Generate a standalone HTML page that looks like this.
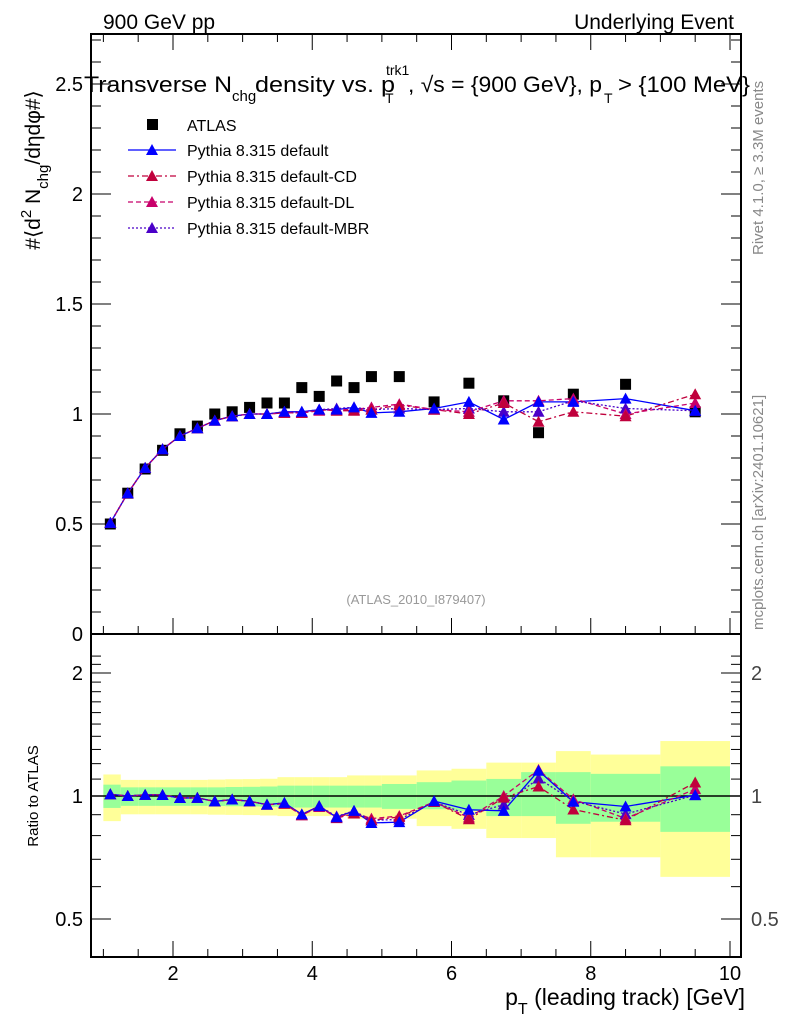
<!DOCTYPE html>
<html><head><meta charset="utf-8"><style>
body{margin:0;background:#fff}
svg{display:block;font-family:"Liberation Sans",sans-serif}
</style></head><body>
<svg id="chart" width="786" height="1024" viewBox="0 0 786 1024">
<g id="bands"></g>
<g id="axes"></g>
<g id="series"></g>
<text x="103" y="29" font-size="21">900 GeV pp</text>
<text x="734" y="29" font-size="21" text-anchor="end">Underlying Event</text>
<g font-size="22">
<text x="84" y="92" textLength="148" lengthAdjust="spacingAndGlyphs">Transverse N</text>
<text x="232" y="101" font-size="15">chg</text>
<text x="255" y="92" textLength="140" lengthAdjust="spacingAndGlyphs">density vs. p</text>
<text x="386" y="75" font-size="14">trk1</text>
<text x="385" y="103" font-size="14">T</text>
<text x="408" y="92" textLength="194" lengthAdjust="spacingAndGlyphs">, √s = {900 GeV}, p</text>
<text x="604" y="103" font-size="14">T</text>
<text x="618" y="92" textLength="132" lengthAdjust="spacingAndGlyphs">&gt; {100 MeV}</text>
</g>
<text transform="translate(40,170) rotate(-90)" font-size="21" text-anchor="middle">#⟨d<tspan font-size="15" dy="-9">2</tspan><tspan dy="9"> N</tspan><tspan font-size="15" dy="8">chg</tspan><tspan dy="-8">/dηdφ#⟩</tspan></text>
<text transform="translate(38,796) rotate(-90)" font-size="15" text-anchor="middle">Ratio to ATLAS</text>
<text x="745" y="1005" font-size="23" text-anchor="end">p<tspan font-size="16" dy="9">T</tspan><tspan dy="-9"> (leading track) [GeV]</tspan></text>
<text transform="translate(763,255) rotate(-90)" font-size="15" fill="#888">Rivet 4.1.0, ≥ 3.3M events</text>
<text transform="translate(763,630) rotate(-90)" font-size="15" fill="#888">mcplots.cern.ch [arXiv:2401.10621]</text>
<text x="416" y="604" font-size="13" fill="#999" text-anchor="middle">(ATLAS_2010_I879407)</text>
<g id="legend"></g>
</svg>
<script>
const xC=[1.1,1.35,1.6,1.85,2.1,2.35,2.6,2.85,3.1,3.35,3.6,3.85,4.1,4.35,4.6,4.85,5.25,5.75,6.25,6.75,7.25,7.75,8.5,9.5];
const binLo=[1,1.25,1.5,1.75,2,2.25,2.5,2.75,3,3.25,3.5,3.75,4,4.25,4.5,4.75,5,5.5,6,6.5,7,7.5,8,9];
const binHi=[1.25,1.5,1.75,2,2.25,2.5,2.75,3,3.25,3.5,3.75,4,4.25,4.5,4.75,5,5.5,6,6.5,7,7.5,8,9,10];
const atlas=[0.50,0.64,0.75,0.835,0.91,0.945,1.0,1.01,1.03,1.05,1.05,1.12,1.08,1.15,1.12,1.17,1.17,1.055,1.14,1.06,0.915,1.09,1.135,1.01];
const pyDefault=[0.505,0.64,0.755,0.84,0.90,0.935,0.97,0.99,1.0,1.0,1.01,1.01,1.02,1.02,1.03,1.005,1.01,1.025,1.055,0.975,1.055,1.055,1.07,1.015];
const pyCD=[0.505,0.64,0.755,0.84,0.90,0.935,0.97,0.99,1.0,1.0,1.005,1.005,1.02,1.015,1.015,1.02,1.04,1.02,1.0,1.05,0.965,1.01,0.99,1.09];
const pyDL=[0.505,0.64,0.755,0.84,0.90,0.935,0.97,0.99,1.0,1.0,1.005,1.005,1.015,1.02,1.02,1.03,1.045,1.02,1.01,1.06,1.06,1.07,1.0,1.05];
const pyMBR=[0.505,0.64,0.755,0.84,0.90,0.935,0.97,0.99,1.0,1.0,1.01,1.01,1.02,1.025,1.03,1.02,1.025,1.02,1.025,1.01,1.01,1.06,1.025,1.015];
const yelHi=[1.129,1.095,1.095,1.095,1.095,1.095,1.097,1.099,1.1,1.102,1.112,1.112,1.112,1.112,1.123,1.123,1.123,1.155,1.166,1.207,1.207,1.288,1.263,1.363];
const yelLo=[0.868,0.902,0.902,0.902,0.902,0.902,0.9,0.899,0.898,0.896,0.893,0.893,0.893,0.893,0.88,0.88,0.88,0.844,0.831,0.789,0.789,0.708,0.708,0.634];
const grnHi=[1.066,1.05,1.05,1.05,1.05,1.05,1.05,1.052,1.053,1.055,1.06,1.06,1.06,1.06,1.06,1.06,1.07,1.081,1.091,1.101,1.144,1.144,1.133,1.182];
const grnLo=[0.935,0.946,0.946,0.946,0.946,0.946,0.945,0.944,0.943,0.941,0.937,0.937,0.937,0.937,0.937,0.937,0.93,0.928,0.919,0.893,0.893,0.855,0.865,0.817];
const mainTicks=[0,0.5,1,1.5,2,2.5];
const ratioTicks=[0.5,1,2];
const xTicks=[2,4,6,8,10];

const NS="http://www.w3.org/2000/svg";
const L=91,R=741,T=34,MB=634,RB=957;
const X=v=>173+(v-2)*(730-173)/8;
const Y=v=>634-v*220;
const YR=r=>796-123*Math.log2(r);
function mk(tag,attrs,parent){const e=document.createElementNS(NS,tag);for(const k in attrs)e.setAttribute(k,attrs[k]);parent.appendChild(e);return e;}
const bands=document.getElementById('bands'),axes=document.getElementById('axes'),ser=document.getElementById('series'),leg=document.getElementById('legend');

for(let i=0;i<xC.length;i++){
  const r1=mk('rect',{x:X(binLo[i]),y:YR(yelHi[i]),width:X(binHi[i])-X(binLo[i]),height:YR(yelLo[i])-YR(yelHi[i]),fill:'#ffff99'},bands);
  
  
  const r2=mk('rect',{x:X(binLo[i]),y:YR(grnHi[i]),width:X(binHi[i])-X(binLo[i]),height:YR(grnLo[i])-YR(grnHi[i]),fill:'#99ff99'},bands);
  
  
}
mk('rect',{x:L,y:T,width:R-L,height:RB-T,fill:'none',stroke:'#000','stroke-width':2},axes);
mk('line',{x1:L,x2:R,y1:MB,y2:MB,stroke:'#000','stroke-width':2},axes);
mk('line',{x1:L,x2:R,y1:796,y2:796,stroke:'#000','stroke-width':1.5},axes);
for(let v=1;v<=10;v+=0.5){const big=Number.isInteger(v)&&v%2==0;const len=big?16:8;
  for(const yb of [MB,RB]){mk('line',{x1:X(v),x2:X(v),y1:yb,y2:yb-len,stroke:'#000'},axes);}
  mk('line',{x1:X(v),x2:X(v),y1:T,y2:T+len,stroke:'#000'},axes);}
xTicks.forEach(v=>{const t=mk('text',{x:X(v),y:980,'font-size':20,'text-anchor':'middle'},axes);t.textContent=v;
  
  });
for(let v=0;v<=2.71;v+=0.1){const big=Math.abs(v*2-Math.round(v*2))<1e-6;const len=big?20:10;
  mk('line',{x1:L,x2:L+len,y1:Y(v),y2:Y(v),stroke:'#000'},axes);mk('line',{x1:R,x2:R-len,y1:Y(v),y2:Y(v),stroke:'#000'},axes);}
mainTicks.forEach(v=>{const t=mk('text',{x:L-8,y:Y(v)+7,'font-size':20,'text-anchor':'end'},axes);t.textContent=v;
  
  });
for(let v=0.4;v<=2.3;v+=0.1){if(YR(v)<T+606||YR(v)>RB)continue;const big=[0.5,1,2].some(z=>Math.abs(z-v)<1e-6);const len=big?20:10;
  mk('line',{x1:L,x2:L+len,y1:YR(v),y2:YR(v),stroke:'#000'},axes);mk('line',{x1:R,x2:R-len,y1:YR(v),y2:YR(v),stroke:'#000'},axes);}
ratioTicks.forEach(v=>{const t=mk('text',{x:L-8,y:YR(v)+7,'font-size':20,'text-anchor':'end'},axes);t.textContent=v;
  
  
  const t2=mk('text',{x:R+10,y:YR(v)+7,'font-size':20,fill:'#444'},axes);t2.textContent=v;
  
  });

const models=[
 {name:'Pythia 8.315 default',vals:pyDefault,c:'#0000ff',dash:'',key:'default'},
 {name:'Pythia 8.315 default-CD',vals:pyCD,c:'#c0003c',dash:'6,3,2,3',key:'cd'},
 {name:'Pythia 8.315 default-DL',vals:pyDL,c:'#c8006a',dash:'5,3',key:'dl'},
 {name:'Pythia 8.315 default-MBR',vals:pyMBR,c:'#4a00c8',dash:'2,2',key:'mbr'}];
function tri(x,y,c,parent,nm){const p=mk('path',{d:`M${x},${y-6}L${x+6},${y+5}L${x-6},${y+5}Z`,fill:c},parent);
  
  }
atlas.forEach((v,i)=>{const r=mk('rect',{x:X(xC[i])-5.5,y:Y(v)-5.5,width:11,height:11,fill:'#000'},ser);
  
  });
models.forEach(m=>{
  const pts=m.vals.map((v,i)=>X(xC[i])+','+Y(v)).join(' ');
  const pl=mk('polyline',{points:pts,fill:'none',stroke:m.c,'stroke-width':1.3,'stroke-dasharray':m.dash},ser);
  
  
  const rp=m.vals.map((v,i)=>X(xC[i])+','+YR(v/atlas[i])).join(' ');
  const rl=mk('polyline',{points:rp,fill:'none',stroke:m.c,'stroke-width':1.3,'stroke-dasharray':m.dash},ser);
  
  
});
[...models].reverse().forEach(m=>{
  m.vals.forEach((v,i)=>{tri(X(xC[i]),Y(v),m.c,ser,'point-'+m.key);tri(X(xC[i]),YR(v/atlas[i]),m.c,ser,'ratio-point-'+m.key);});
});
const ly=[125,150,176,202,228];
const a=mk('rect',{x:147,y:ly[0]-6,width:11,height:11,fill:'#000'},leg);


const at=mk('text',{x:187,y:ly[0]+6,'font-size':16},leg);at.textContent='ATLAS';


models.forEach((m,k)=>{const y=ly[k+1];
  const ln=mk('line',{x1:128,x2:176,y1:y,y2:y,stroke:m.c,'stroke-width':1.3,'stroke-dasharray':m.dash},leg);
  
  
  tri(152,y,m.c,leg,'legend-marker');
  const t=mk('text',{x:187,y:y+6,'font-size':16},leg);t.textContent=m.name;
  
  });
</script>
</body></html>
